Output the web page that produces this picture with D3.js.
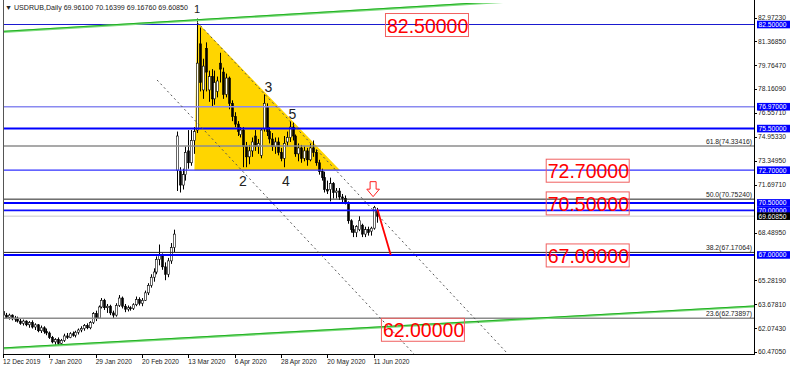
<!DOCTYPE html>
<html><head><meta charset="utf-8">
<script src="https://cdn.jsdelivr.net/npm/d3@7"></script>
<style>body{margin:0;background:#fff}svg{display:block}text{font-family:"Liberation Sans",Arial,sans-serif}</style>
</head><body><svg id="c" width="794" height="370"></svg>
<script>
// ---- data ----
const opens=[63.20,62.95,62.80,62.95,62.70,62.75,62.55,62.40,62.55,62.30,62.45,62.15,62.30,61.90,62.10,61.85,61.75,61.45,61.15,61.30,61.05,61.25,61.55,61.45,61.70,61.60,61.80,61.95,62.05,62.25,62.10,62.45,63.05,62.75,63.50,63.95,63.45,63.55,63.10,62.95,63.60,64.10,63.55,63.35,63.45,63.40,63.65,64.00,63.75,63.95,64.45,64.95,65.50,65.85,66.70,66.95,66.20,65.70,66.60,67.50,72.70,72.60,71.70,72.40,74.00,73.20,74.70,75.40,81.20,78.10,80.90,78.10,79.00,77.50,78.00,79.90,79.30,77.80,78.90,77.20,76.30,75.80,75.10,75.40,74.30,73.60,74.00,75.00,74.30,73.70,75.50,77.00,75.30,74.80,74.30,74.60,73.90,73.50,74.60,74.90,75.60,75.00,73.80,74.20,73.50,74.00,73.40,74.20,73.90,73.20,72.60,72.20,71.40,71.40,71.80,71.20,71.30,70.90,70.80,70.50,69.30,68.70,68.50,68.70,69.00,68.40,68.70,68.60,68.80,69.961];
const highs=[63.35,63.10,63.05,63.00,62.90,62.85,62.70,62.65,62.60,62.55,62.60,62.40,62.35,62.25,62.20,62.05,61.85,61.55,61.40,61.45,61.35,61.70,61.75,61.80,61.85,61.90,62.05,62.20,62.35,62.40,62.55,63.15,63.25,63.60,64.10,64.05,63.70,63.65,63.25,63.75,64.30,64.20,63.70,63.60,63.55,63.75,64.20,64.15,64.10,64.60,65.10,65.70,66.10,66.90,67.70,67.10,66.50,66.80,67.80,68.70,75.30,72.90,72.80,74.30,75.40,75.40,75.60,82.90,82.30,80.20,81.30,79.40,79.50,79.40,79.00,80.60,79.60,79.20,79.00,77.40,76.60,76.00,75.60,75.60,74.60,74.40,74.90,75.40,74.80,75.50,77.80,77.20,75.60,75.20,74.90,74.90,74.20,75.00,75.30,76.00,75.90,75.10,74.50,74.40,74.30,74.20,74.50,74.70,74.10,73.40,72.80,72.60,72.00,72.20,71.90,71.50,71.50,71.10,71.00,70.60,69.40,69.00,69.00,69.60,69.10,68.90,68.90,68.90,70.30,70.16399];
const lows=[62.85,62.70,62.65,62.60,62.50,62.45,62.30,62.25,62.20,62.10,62.05,61.95,61.80,61.75,61.70,61.60,61.35,61.05,60.95,60.90,60.95,61.15,61.35,61.40,61.50,61.45,61.65,61.80,61.90,62.00,62.00,62.35,62.55,62.70,63.40,63.30,63.10,62.95,62.70,62.85,63.50,63.40,63.15,63.20,63.25,63.30,63.55,63.60,63.55,63.90,64.30,64.80,65.20,65.70,66.30,66.00,65.30,65.50,66.40,67.20,71.30,71.20,71.40,72.00,72.80,73.00,73.80,75.20,78.00,77.50,78.00,77.30,77.00,77.10,77.60,78.60,77.50,77.60,76.80,76.00,75.60,75.00,74.90,72.90,72.90,73.10,73.60,74.00,73.80,73.50,75.30,75.00,74.50,74.00,73.80,73.70,73.30,72.90,74.30,74.60,74.70,73.60,73.30,73.20,73.30,73.00,73.30,73.60,73.00,72.40,72.00,71.20,71.10,70.60,70.80,70.80,70.70,70.50,70.40,69.10,68.50,68.20,68.20,68.60,68.20,68.20,68.30,68.30,68.70,69.1676];
const closes=[62.95,62.80,62.95,62.70,62.75,62.55,62.40,62.55,62.30,62.45,62.15,62.30,61.90,62.10,61.85,61.75,61.45,61.15,61.30,61.05,61.25,61.55,61.45,61.70,61.60,61.80,61.95,62.05,62.25,62.10,62.45,63.05,62.75,63.50,63.95,63.45,63.55,63.10,62.95,63.60,64.10,63.55,63.35,63.45,63.40,63.65,64.00,63.75,63.95,64.45,64.95,65.50,65.85,66.70,66.95,66.20,65.70,66.60,67.50,68.40,75.00,71.70,72.40,73.90,73.20,74.70,75.30,79.90,78.60,79.70,79.30,79.00,77.50,78.60,78.70,79.50,77.80,78.90,77.20,76.30,75.80,75.30,75.40,74.30,73.60,74.00,74.60,74.30,74.50,75.40,77.20,75.30,74.80,74.30,74.60,73.90,73.50,74.50,74.90,75.60,75.00,73.80,74.20,73.50,74.00,73.40,74.20,73.90,73.20,72.60,72.20,71.40,71.30,71.80,71.20,71.30,70.90,70.80,70.50,69.30,68.70,68.50,68.90,69.30,68.40,68.70,68.50,68.80,70.20,69.6085];

const xTickIdx=[0,16,32,48,64,80,96,112,128];
const xTickLabels=["12 Dec 2019","7 Jan 2020","29 Jan 2020","20 Feb 2020","13 Mar 2020","6 Apr 2020","28 Apr 2020","20 May 2020","11 Jun 2020"];
const yTickValues=[82.9723,81.3685,79.7647,78.1609,76.5571,74.9533,73.3495,71.6971,68.4895,65.2819,63.6781,62.0743,60.4705];
const yTickLabels=["82.97230","81.36850","79.76470","78.16090","76.55710","74.95330","73.34950","71.69710","68.48950","65.28190","63.67810","62.07430","60.47050"];

const levelPrices=[82.5,76.97,75.5,72.7,70.5,70.0,67.0];
const levelLabels=["82.50000","76.97000","75.50000","72.70000","70.50000","70.00000","67.00000"];
const levelColors=["#1a1ad0","#8a8af0","#0000ff","#3030ff","#0000ff","#1010ff","#0000ff"];
const levelWidths=[1.2,1.5,2,1.2,2,1.6,2];

const fibPrices=[74.33416,70.7524,67.17064,62.73897];
const fibLabels=["61.8(74.33416)","50.0(70.75240)","38.2(67.17064)","23.6(62.73897)"];
const fibColors=["#8c8c8c","#222","#222","#8c8c8c"];

const currentPrice=69.6085;
const currentLabel="69.60850";

const bigLabels=["82.50000","72.70000","70.50000","67.00000","62.00000"];
const bigLabelPrices=[82.5,72.7,70.5,67.0,62.0];
const bigLabelIdx=[131.9,187.4,187.4,187.4,130.5];

const waveLabels=["1","2","3","4","5"];
const waveIdx=[67,82.8,91.6,97.7,99.9];
const wavePrices=[83.55,71.97,78.28,71.97,76.48];
const waveSizes=[11,14,14,14,14];

// trend lines: [idx1, price1, idx2, price2]
const greenLines=[[0,82.0,166.4,83.948],[0,60.706,259.3,63.53]];
const dottedLines=[[67.0,82.67,200,55.0],[53.2,78.768,170,54.5]];
const triangleIdx=[67.0,66.1,116.4];
const trianglePrice=[82.67,72.7,72.7];
const redLine=[129.3,70.05,133.9,67.0];
const arrowIdx=127.8, arrowPrice=70.92;

// ---- chart ----
const svg=d3.select("#c");
const L=3,R=754,T=3,B=354;
const x=d3.scaleLinear().domain([0,258]).range([3,3+258*2.896]);
const y=d3.scaleLinear().domain([60.4705,82.9723]).range([352,17.5]);

svg.append("defs").append("clipPath").attr("id","clip")
  .append("rect").attr("x",L).attr("y",T).attr("width",R-L).attr("height",B-T);
const g=svg.append("g").attr("clip-path","url(#clip)");

// triangle
g.append("polygon")
  .attr("points",triangleIdx.map((d,i)=>[x(d),y(trianglePrice[i])].join(",")).join(" "))
  .attr("fill","#ffd500").attr("stroke","none");

// current price line
g.append("line").attr("x1",L).attr("x2",R).attr("y1",y(currentPrice)).attr("y2",y(currentPrice))
  .attr("stroke","#c8c8c8").attr("stroke-width",1);

// candles
const bars=d3.range(opens.length);
const cg=g.append("g");
cg.selectAll("line.w").data(bars).join("line")
  .attr("x1",i=>Math.round(x(i))+0.5).attr("x2",i=>Math.round(x(i))+0.5)
  .attr("y1",i=>y(highs[i])).attr("y2",i=>y(lows[i]))
  .attr("stroke","#000").attr("stroke-width",1);
cg.selectAll("rect.b").data(bars).join("rect")
  .attr("x",i=>Math.round(x(i))-0.5).attr("width",2)
  .attr("y",i=>y(Math.max(opens[i],closes[i])))
  .attr("height",i=>Math.max(1,Math.abs(y(opens[i])-y(closes[i]))))
  .attr("fill",i=>closes[i]>=opens[i]?"#fff":"#000")
  .attr("stroke","#000").attr("stroke-width",0.6);

// horizontal levels
g.selectAll("line.lv").data(levelPrices).join("line")
  .attr("x1",L).attr("x2",R).attr("y1",d=>y(d)).attr("y2",d=>y(d))
  .attr("stroke",(d,i)=>levelColors[i]).attr("stroke-width",(d,i)=>levelWidths[i]);

// fib lines
g.selectAll("line.fb").data(fibPrices).join("line")
  .attr("x1",L).attr("x2",R).attr("y1",d=>y(d)).attr("y2",d=>y(d))
  .attr("stroke",(d,i)=>fibColors[i]).attr("stroke-width",(d,i)=>i%3===0?1.5:1);
g.selectAll("text.fb").data(fibPrices).join("text")
  .attr("x",752).attr("y",d=>y(d)-2).attr("text-anchor","end")
  .attr("font-size",6.8).attr("fill","#222").text((d,i)=>fibLabels[i]);

// green trend lines (extended)
function ext(l,i0,i1){const s=(l[3]-l[1])/(l[2]-l[0]);return [[i0,l[1]+s*(i0-l[0])],[i1,l[1]+s*(i1-l[0])]];}
greenLines.forEach(l=>{
  const p=ext(l,0,262);
  g.append("line").attr("x1",x(p[0][0])).attr("y1",y(p[0][1])).attr("x2",x(p[1][0])).attr("y2",y(p[1][1]))
   .attr("stroke","#7ddc7d").attr("stroke-width",2.2);
  g.append("line").attr("x1",x(p[0][0])).attr("y1",y(p[0][1])-0.6).attr("x2",x(p[1][0])).attr("y2",y(p[1][1])-0.6)
   .attr("stroke","#22b022").attr("stroke-width",1);
});

// dotted channel lines
dottedLines.forEach(l=>{
  g.append("line").attr("x1",x(l[0])).attr("y1",y(l[1])).attr("x2",x(l[2])).attr("y2",y(l[3]))
   .attr("stroke","#555").attr("stroke-width",1).attr("stroke-dasharray","2,3");
});

// red projection line
g.append("line").attr("x1",x(redLine[0])).attr("y1",y(redLine[1])).attr("x2",x(redLine[2])).attr("y2",y(redLine[3]))
  .attr("stroke","#ff0000").attr("stroke-width",1.8);

// red arrow
{const tx=x(arrowIdx),ty=y(arrowPrice);
 const pts=[[tx-3,ty-15],[tx+3,ty-15],[tx+3,ty-7.5],[tx+6.3,ty-7.5],[tx,ty],[tx-6.3,ty-7.5],[tx-3,ty-7.5]];
 svg.append("polygon").attr("points",pts.map(p=>p.join(",")).join(" "))
  .attr("fill","#fff").attr("stroke","#ff2020").attr("stroke-width",1);}

// wave labels
svg.selectAll("text.wv").data(waveLabels).join("text")
  .attr("x",(d,i)=>x(waveIdx[i])).attr("y",(d,i)=>y(wavePrices[i])).attr("dy","0.35em")
  .attr("text-anchor","middle").attr("font-size",(d,i)=>waveSizes[i]).attr("fill","#222").text(d=>d);

// big red labels
bigLabels.forEach((t,i)=>{
  const bx=x(bigLabelIdx[i]), cy=y(bigLabelPrices[i])+0.5;
  svg.append("rect").attr("x",bx+0.5).attr("y",cy-11.5).attr("width",83).attr("height",23)
    .attr("fill","none").attr("stroke","#f06060").attr("stroke-width",1);
  svg.append("text").attr("x",bx+2).attr("y",cy+7.5).attr("font-size",19.5).attr("fill","#ff0000").text(t);
});

// frame
svg.append("line").attr("x1",L+0.5).attr("x2",L+0.5).attr("y1",0).attr("y2",B).attr("stroke","#555");
svg.append("line").attr("x1",L).attr("x2",R+1).attr("y1",B+0.5).attr("y2",B+0.5).attr("stroke","#000");
svg.append("line").attr("x1",R+0.5).attr("x2",R+0.5).attr("y1",0).attr("y2",B+1).attr("stroke","#000");

// header
svg.append("text").attr("x",5).attr("y",10).attr("font-size",7.1).attr("fill","#222")
  .text("\u25BC USDRUB,Daily  69.96100 70.16399 69.16760 69.60850");

// right axis
const ra=svg.append("g");
ra.selectAll("line").data(yTickValues).join("line")
  .attr("x1",R).attr("x2",R+3).attr("y1",d=>Math.round(y(d))+0.5).attr("y2",d=>Math.round(y(d))+0.5).attr("stroke","#000");
ra.selectAll("text").data(yTickValues).join("text")
  .attr("x",758).attr("y",d=>y(d)).attr("dy","0.35em").attr("font-size",6.7).attr("fill","#222")
  .text((d,i)=>yTickLabels[i]);
// highlighted level labels
const hl=levelPrices.map((p,i)=>({p,t:levelLabels[i],bg:"#0000ff"})).concat([{p:currentPrice,t:currentLabel,bg:"#000"}]);
hl.forEach(h=>{
  const cy=y(h.p);
  ra.append("rect").attr("x",757).attr("y",cy-3.8).attr("width",33).attr("height",7.6).attr("fill",h.bg);
  ra.append("text").attr("x",758.5).attr("y",cy).attr("dy","0.35em").attr("font-size",6.7).attr("fill","#fff").text(h.t);
});

// bottom axis
const ba=svg.append("g");
ba.selectAll("line").data(xTickIdx).join("line")
  .attr("x1",d=>Math.round(x(d))+0.5).attr("x2",d=>Math.round(x(d))+0.5).attr("y1",B).attr("y2",B+4).attr("stroke","#000");
ba.selectAll("text").data(xTickIdx).join("text")
  .attr("x",d=>x(d)).attr("y",364).attr("font-size",6.6).attr("fill","#222")
  .text((d,i)=>xTickLabels[i]);
</script></body></html>
